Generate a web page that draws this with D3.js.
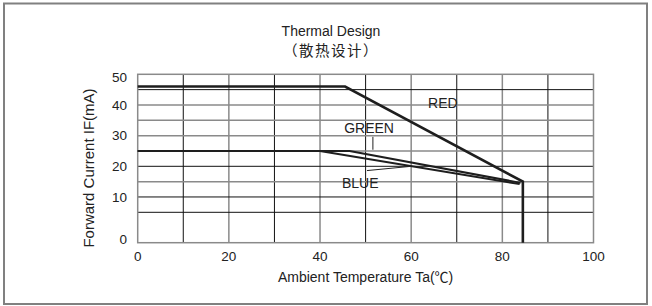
<!DOCTYPE html>
<html>
<head>
<meta charset="utf-8">
<script src="https://cdn.jsdelivr.net/npm/d3@7"></script>
<style>
  body { margin: 0; background: #fff; }
  text { font-family: "Liberation Sans", Arial, "Noto Sans CJK SC", sans-serif; fill: #222; }
</style>
</head>
<body>
<svg id="chart" width="652" height="306"></svg>
<script>
// data
const redTemp = [0, 45.5, 84.5, 84.5];
const redCurrent = [46, 46, 15, 0];
const greenTemp = [0, 46.5, 84];
const greenCurrent = [25, 25, 14.6];
const blueTemp = [0, 40, 83.8];
const blueCurrent = [25, 25, 14.2];

const xTicks = [0, 20, 40, 60, 80, 100];
const yTicks = [0, 10, 20, 30, 40, 50];
const xGrid = [10, 20, 30, 40, 50, 60, 70, 80, 90];
const yGrid = [5, 10, 15, 20, 25, 30, 35, 40, 45];

const svg = d3.select('#chart');

// outer frame
svg.append('rect')
    .attr('x', 4).attr('y', 3.5)
    .attr('width', 643).attr('height', 300.5)
    .attr('fill', 'none')
    .attr('stroke', '#808080')
    .attr('stroke-width', 2);

const plotL = 137.7, plotR = 593.5, plotT = 74.3, plotB = 242.7;

const x = d3.scaleLinear().domain([0, 100]).range([plotL, plotR]);
// the lowest band (0-5) is drawn twice as tall in the original
const y = d3.scaleLinear().domain([0, 5, 50]).range([plotB, 212.3, plotT]);

// grid
const darkV = v => v % 20 !== 0;
svg.append('g').selectAll('line')
    .data(xGrid)
    .join('line')
    .attr('x1', d => x(d)).attr('x2', d => x(d))
    .attr('y1', plotT).attr('y2', plotB)
    .attr('stroke', d => darkV(d) ? '#111' : '#8a8a8a')
    .attr('stroke-width', d => darkV(d) ? 1 : 1.5);

const darkH = [45, 20, 10, 5];
svg.append('g').selectAll('line')
    .data(yGrid)
    .join('line')
    .attr('x1', plotL).attr('x2', plotR)
    .attr('y1', d => y(d)).attr('y2', d => y(d))
    .attr('stroke', d => darkH.includes(d) ? '#111' : '#8a8a8a')
    .attr('stroke-width', d => darkH.includes(d) ? 1 : 1.5);

svg.append('rect')
    .attr('x', plotL).attr('y', plotT)
    .attr('width', plotR - plotL).attr('height', plotB - plotT)
    .attr('fill', 'none')
    .attr('stroke', '#8a8a8a')
    .attr('stroke-width', 1.5);

// tick labels
svg.append('g').selectAll('text')
    .data(xTicks)
    .join('text')
    .attr('x', d => x(d))
    .attr('y', 261)
    .attr('text-anchor', 'middle')
    .attr('font-size', 13.5)
    .text(d => d);

svg.append('g').selectAll('text')
    .data(yTicks)
    .join('text')
    .attr('x', 127)
    .attr('y', d => y(d) + (d === 50 ? 3 : d === 0 ? -4 : 0))
    .attr('dy', '0.36em')
    .attr('text-anchor', 'end')
    .attr('font-size', 13.5)
    .text(d => d);

// curves
const line = d3.line().x(d => x(d[0])).y(d => y(d[1]));
const curves = [
    { t: blueTemp, c: blueCurrent, w: 2 },
    { t: greenTemp, c: greenCurrent, w: 2 },
    { t: redTemp, c: redCurrent, w: 2.6 }
];
svg.append('g').selectAll('path')
    .data(curves)
    .join('path')
    .attr('d', d => line(d.t.map((v, i) => [v, d.c[i]])))
    .attr('fill', 'none')
    .attr('stroke', '#1e1e1e')
    .attr('stroke-width', d => d.w)
    .attr('stroke-linejoin', 'miter');

// curve labels and leaders
const labels = [
    { name: 'RED', t: 63.7, c: 39.1 },
    { name: 'GREEN', t: 45.3, c: 31 },
    { name: 'BLUE', t: 44.8, c: 12.8 }
];
svg.append('g').selectAll('text')
    .data(labels)
    .join('text')
    .attr('x', d => x(d.t))
    .attr('y', d => y(d.c))
    .attr('font-size', 14)
    .text(d => d.name);

const leaders = [
    [[51.6, 29.6], [51.6, 25.4]],
    [[50.3, 18.6], [60, 20]]
];
svg.append('g').selectAll('path')
    .data(leaders)
    .join('path')
    .attr('d', d => line(d))
    .attr('stroke', '#222')
    .attr('stroke-width', 1);

// titles
svg.append('text')
    .attr('x', 331).attr('y', 35.5)
    .attr('text-anchor', 'middle')
    .attr('font-size', 14)
    .text('Thermal Design');
svg.append('text')
    .attr('x', 331).attr('y', 56)
    .attr('text-anchor', 'middle')
    .attr('font-size', 14.5)
    .attr('letter-spacing', 1.5)
    .style('font-family', '"Noto Sans CJK SC", sans-serif')
    .text('（散热设计）');

svg.append('text')
    .attr('x', (plotL + plotR) / 2).attr('y', 282)
    .attr('text-anchor', 'middle')
    .attr('font-size', 14)
    .text('Ambient Temperature Ta(℃)');

svg.append('text')
    .attr('transform', 'translate(94,168) rotate(-90)')
    .attr('text-anchor', 'middle')
    .attr('font-size', 15)
    .text('Forward Current IF(mA)');
</script>
</body>
</html>
